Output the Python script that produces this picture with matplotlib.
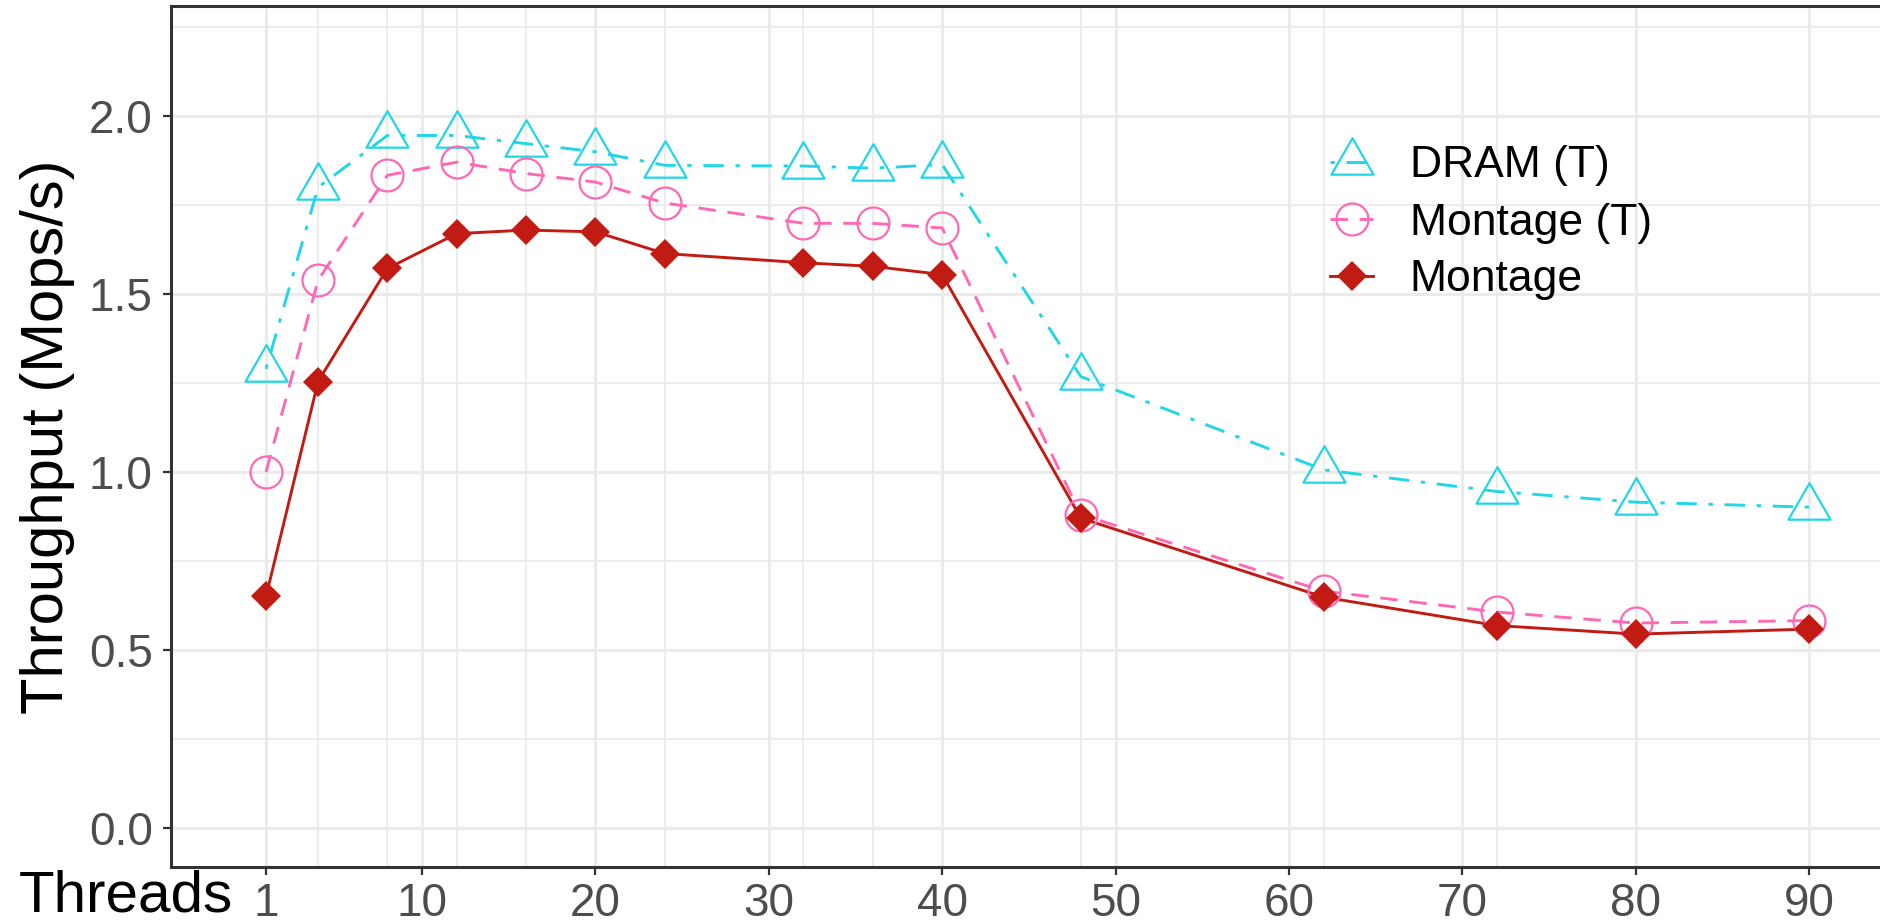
import matplotlib
matplotlib.use("Agg")
import matplotlib.pyplot as plt
from matplotlib.path import Path

plt.rcParams['font.family'] = ['Liberation Sans', 'DejaVu Sans']

threads = [1, 4, 8, 12, 16, 20, 24, 32, 36, 40, 48, 62, 72, 80, 90]
dram_t = [1.29, 1.80, 1.946, 1.946, 1.923, 1.90, 1.862, 1.86, 1.854, 1.864,
          1.268, 1.006, 0.945, 0.915, 0.901]
montage_t = [1.00, 1.539, 1.834, 1.871, 1.839, 1.815, 1.756, 1.699, 1.699, 1.686,
             0.88, 0.665, 0.606, 0.575, 0.582]
montage = [0.65, 1.254, 1.572, 1.67, 1.68, 1.675, 1.614, 1.588, 1.578, 1.555,
           0.87, 0.648, 0.568, 0.544, 0.558]
series_names = ["DRAM (T)", "Montage (T)", "Montage"]
x_breaks = [1, 10, 20, 30, 40, 50, 60, 70, 80, 90]
y_breaks = [0.0, 0.5, 1.0, 1.5, 2.0]
y_minor = [0.25, 0.75, 1.25, 1.75, 2.25]

cyan = "#22D6E6"
pink = "#FF69B4"
red = "#C21B13"

# equilateral triangle centred on its centroid (ggplot shape 2)
tri = Path([(0, 0.577), (-0.5, -0.289), (0.5, -0.289), (0, 0.577)],
           [Path.MOVETO, Path.LINETO, Path.LINETO, Path.CLOSEPOLY])

fig = plt.figure(figsize=(18.8, 9.24), dpi=100)
ax = fig.add_axes([170.7 / 1880, 57.3 / 924, (1887 - 170.7) / 1880, 918 / 924 - 57.3 / 924])

styles = [
    dict(color=cyan, dashes=(1.5, 4, 7, 4), marker=tri, ms=35, mfc="none", mec=cyan, mew=1.6),
    dict(color=pink, dashes=(6, 4), marker="o", ms=23, mfc="none", mec=pink, mew=1.6),
    dict(color=red, linestyle="-", marker="D", ms=15, mfc=red, mec=red, mew=0),
]
data = [dram_t, montage_t, montage]

# lines first, then points, like ggplot layers
for vals, st in zip(data, styles):
    ls = {k: v for k, v in st.items() if k in ("color", "dashes", "linestyle")}
    ax.plot(threads, vals, lw=2.1, zorder=2, **ls)
for vals, st in zip(data, styles):
    ax.plot(threads, vals, linestyle="none", marker=st["marker"], ms=st["ms"],
            mfc=st["mfc"], mec=st["mec"], mew=st["mew"], zorder=3)

# legend handles
handles = []
for name, st in zip(series_names, styles):
    h, = ax.plot([], [], lw=2.1, label=name, **st)
    handles.append(h)
leg = fig.legend(handles=handles, loc="upper left",
                 bbox_to_anchor=(1330 / 1880, (924 - 145.5) / 924),
                 frameon=False, fontsize=32, handlelength=0.97, handletextpad=0.82,
                 labelspacing=0.36, borderpad=0, borderaxespad=0, numpoints=1)

ax.set_xlim(-4.5, 94.5)
ax.set_ylim(-0.11, 2.31)
ax.set_xticks(x_breaks)
ax.set_xticklabels([str(v) for v in x_breaks])
ax.set_xticks([t for t in threads if t not in x_breaks], minor=True)
ax.set_yticks(y_breaks)
ax.set_yticklabels(["%.1f" % v for v in y_breaks])
ax.set_yticks(y_minor, minor=True)

ax.grid(which="major", color="#EBEBEB", lw=2.2, zorder=0)
ax.grid(which="minor", color="#EBEBEB", lw=1.3, zorder=0)
ax.set_axisbelow(True)

ax.tick_params(which="major", length=6, width=1.6, color="#333333",
               labelsize=33, labelcolor="#4D4D4D")
ax.tick_params(axis="x", which="major", pad=5)
ax.tick_params(axis="y", which="major", pad=7)
ax.tick_params(which="minor", length=0)

for s in ax.spines.values():
    s.set_color("#333333")
    s.set_linewidth(2.2)

ax.set_ylabel("Throughput (Mops/s)", fontsize=43, color="black", labelpad=10)
fig.text(233 / 1880, 0.5 / 924, "Threads", fontsize=42, ha="right", va="bottom", color="black")

fig.savefig("out.png", dpi=100)
